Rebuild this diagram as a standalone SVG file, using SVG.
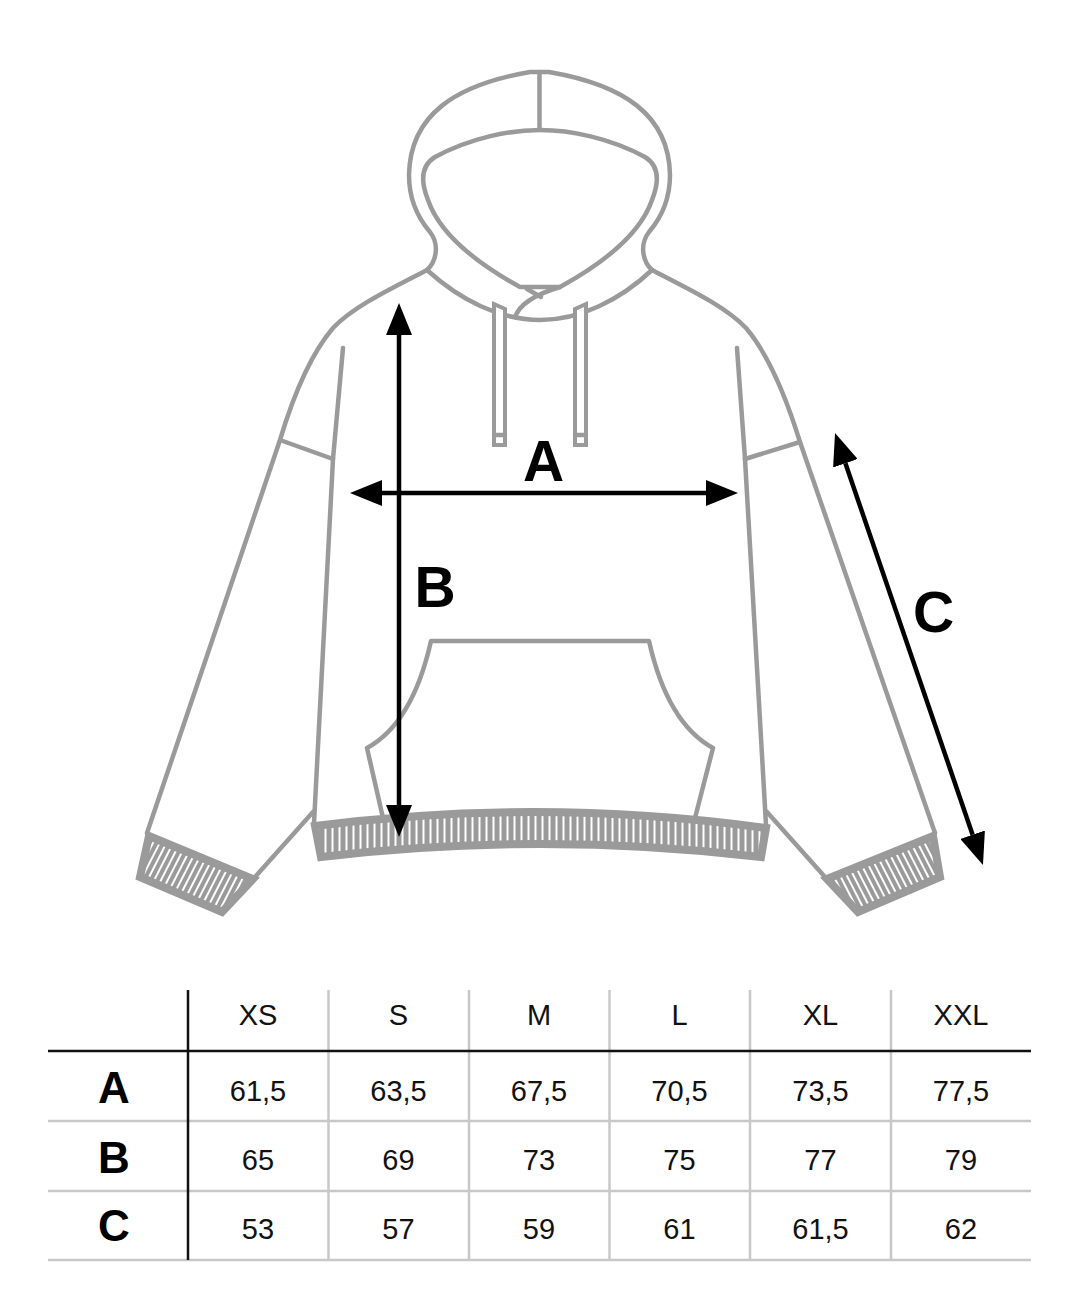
<svg xmlns="http://www.w3.org/2000/svg" width="1080" height="1311" viewBox="0 0 1080 1311">
<defs>
<style>
.g{fill:none;stroke:#9a9a9a;stroke-width:4.5;stroke-linejoin:round;stroke-linecap:round}
.gw{fill:#fff;stroke:#9a9a9a;stroke-width:4;stroke-linejoin:miter}
.rib{stroke:#9a9a9a;stroke-width:8;stroke-linejoin:miter}
.arr{fill:none;stroke:#000;stroke-width:4.5;marker-start:url(#ah);marker-end:url(#ah)}
.big{font-family:"Liberation Sans",Arial,sans-serif;font-weight:bold;font-size:57px;fill:#000;text-anchor:middle}
.hd{font-family:"Liberation Sans",Arial,sans-serif;font-size:29px;fill:#111;text-anchor:middle}
.rl{font-family:"Liberation Sans",Arial,sans-serif;font-weight:bold;font-size:44px;fill:#000;text-anchor:middle}
.tk{stroke:#111;stroke-width:2.5}
.tl{stroke:#c8c8c8;stroke-width:2.5}
</style>
<marker id="ah" markerUnits="userSpaceOnUse" markerWidth="32" markerHeight="26" viewBox="0 0 32 26" refX="0" refY="13" orient="auto-start-reverse">
<path d="M0,0 L32,13 L0,26 Z" fill="#000"/>
</marker>
<pattern id="ribV" patternUnits="userSpaceOnUse" width="7" height="20">
<rect width="7" height="20" fill="#9a9a9a"/>
<rect x="2.5" width="2" height="20" fill="#fff"/>
</pattern>
<pattern id="ribL" patternUnits="userSpaceOnUse" width="6" height="20" patternTransform="rotate(27)">
<rect width="6" height="20" fill="#9a9a9a"/>
<rect x="2" width="2" height="20" fill="#fff"/>
</pattern>
<pattern id="ribR" patternUnits="userSpaceOnUse" width="6" height="20" patternTransform="rotate(-27)">
<rect width="6" height="20" fill="#9a9a9a"/>
<rect x="2" width="2" height="20" fill="#fff"/>
</pattern>
</defs>
<rect width="1080" height="1311" fill="#fff"/>

<g id="hoodie">
<g id="body">
<path class="g" d="M427,270 C395,287 355,305 333,328 C310,355 292,400 280,440 L147,833"/>
<path class="g" d="M652,270 C684,287 724,305 746,328 C769,355 787,400 800,442 L935,833"/>
<path class="g" d="M280,440 L333,459"/>
<path class="g" d="M800,442 L745,459"/>
<path class="g" d="M343,348 L333,459 L314,823"/>
<path class="g" d="M737,348 L745,459 L766,825"/>
<path class="g" d="M255,877 L313,812"/>
<path class="g" d="M825,877 L767,812"/>
</g>
<g id="hood">
<path class="g" d="M427,270 C436,262 440,245 430,232 C418,218 409,200 409,175 C410,115 455,85 530,72 L549,72 C624,85 669,115 670,175 C670,200 661,218 649,232 C639,245 643,262 652,270"/>
<path class="g" d="M539.5,72 L539.5,130"/>
<path class="g" d="M520,287 C480,265 440,235 428,200 C420,180 422,165 435,157 C470,138 510,130 540,130 C570,130 610,138 645,157 C658,165 660,180 652,200 C640,235 600,265 560,287 L520,287"/>
<path class="g" d="M560,287 C540,293 520,303 515,317"/>
<path class="g" d="M527,289 L541,297"/>
<path class="g" d="M427,270 C460,300 500,320 540,320 C580,320 620,300 652,270"/>
</g>
<g id="drawstrings">
<path class="gw" d="M494,304 L505,309 L505,445 L494,445 Z"/>
<path class="g" d="M494,435 L505,435"/>
<path class="gw" d="M575,309 L586,304 L586,445 L575,445 Z"/>
<path class="g" d="M575,435 L586,435"/>
</g>
<g id="pocket">
<path class="g" d="M383,818 L367,748 C400,730 420,690 431,641 L649,641 C660,690 680,730 713,748 L695,818"/>
</g>
<g id="hem">
<path class="rib" fill="url(#ribV)" d="M315,826 Q540,797 766,828 L761,857 Q540,831 321,857 Z"/>
</g>
<g id="cuff-left">
<path class="rib" fill="url(#ribL)" d="M149,836 L253,879 L222,912 L140,877 Z"/>
</g>
<g id="cuff-right">
<path class="rib" fill="url(#ribR)" d="M827,879 L933,836 L940,877 L858,912 Z"/>
</g>
</g>

<g id="connectors">
<line class="arr" x1="382" y1="493" x2="706" y2="493"/>
<line class="arr" x1="399" y1="335" x2="399" y2="805"/>
<line class="arr" x1="845.4" y1="463.3" x2="972.6" y2="834.7"/>
</g>
<g id="labels">
<text class="big" x="543.5" y="481">A</text>
<text class="big" x="435" y="607">B</text>
<text class="big" x="933.5" y="632">C</text>
</g>

<g id="table">
<g id="grid">
<line class="tl" x1="328.5" y1="990" x2="328.5" y2="1260"/>
<line class="tl" x1="469" y1="990" x2="469" y2="1260"/>
<line class="tl" x1="609.5" y1="990" x2="609.5" y2="1260"/>
<line class="tl" x1="750" y1="990" x2="750" y2="1260"/>
<line class="tl" x1="891" y1="990" x2="891" y2="1260"/>
<line class="tl" x1="48" y1="1121" x2="1031" y2="1121"/>
<line class="tl" x1="48" y1="1191" x2="1031" y2="1191"/>
<line class="tl" x1="48" y1="1260" x2="1031" y2="1260"/>
<line class="tk" x1="188" y1="990" x2="188" y2="1260"/>
<line class="tk" x1="48" y1="1051" x2="1031" y2="1051" stroke-width="3"/>
</g>
<g id="header">
<text class="hd" x="258" y="1025">XS</text>
<text class="hd" x="398.5" y="1025">S</text>
<text class="hd" x="539" y="1025">M</text>
<text class="hd" x="679.5" y="1025">L</text>
<text class="hd" x="820.5" y="1025">XL</text>
<text class="hd" x="961" y="1025">XXL</text>
</g>
<g id="row-a">
<text class="rl" x="114" y="1103">A</text>
<text class="hd" x="258" y="1101">61,5</text>
<text class="hd" x="398.5" y="1101">63,5</text>
<text class="hd" x="539" y="1101">67,5</text>
<text class="hd" x="679.5" y="1101">70,5</text>
<text class="hd" x="820.5" y="1101">73,5</text>
<text class="hd" x="961" y="1101">77,5</text>
</g>
<g id="row-b">
<text class="rl" x="114" y="1173">B</text>
<text class="hd" x="258" y="1170">65</text>
<text class="hd" x="398.5" y="1170">69</text>
<text class="hd" x="539" y="1170">73</text>
<text class="hd" x="679.5" y="1170">75</text>
<text class="hd" x="820.5" y="1170">77</text>
<text class="hd" x="961" y="1170">79</text>
</g>
<g id="row-c">
<text class="rl" x="114" y="1241">C</text>
<text class="hd" x="258" y="1239">53</text>
<text class="hd" x="398.5" y="1239">57</text>
<text class="hd" x="539" y="1239">59</text>
<text class="hd" x="679.5" y="1239">61</text>
<text class="hd" x="820.5" y="1239">61,5</text>
<text class="hd" x="961" y="1239">62</text>
</g>
</g>
</svg>
